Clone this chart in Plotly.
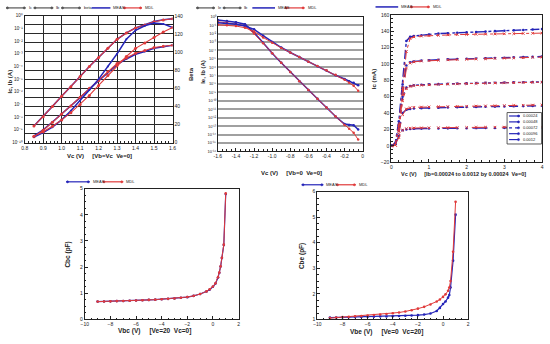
import plotly.graph_objects as go

# ---------------- data ----------------
# Plot 1: forward Gummel (Vb=Vc, Ve=0)
vc1 = [0.85, 0.9, 0.95, 1.0, 1.05, 1.1, 1.15, 1.2, 1.25, 1.3, 1.35, 1.4, 1.45, 1.5, 1.55, 1.6]
ic1_meas = [2.0e-9, 1.1e-8, 7.1e-8, 4.5e-7, 2.5e-6, 1.6e-5, 1.0e-4, 5.0e-4, 2.8e-3, 1.4e-2, 4.5e-2, 0.11, 0.20, 0.35, 0.48, 0.59]
ic1_mdl = [2.0e-9, 1.1e-8, 7.0e-8, 4.5e-7, 2.5e-6, 1.6e-5, 1.0e-4, 5.0e-4, 2.8e-3, 1.4e-2, 4.4e-2, 0.11, 0.19, 0.34, 0.46, 0.58]
ib1_meas = [3.3e-10, 1.0e-9, 4.2e-9, 1.8e-8, 7.2e-8, 3.5e-7, 1.7e-6, 7.1e-6, 3.4e-5, 1.4e-4, 3.9e-4, 9.1e-4, 1.5e-3, 2.7e-3, 3.6e-3, 4.7e-3]
ib1_mdl = [2.8e-10, 9.3e-10, 3.9e-9, 1.8e-8, 7.6e-8, 3.8e-7, 1.9e-6, 7.9e-6, 3.8e-5, 1.7e-4, 4.7e-4, 1.1e-3, 1.8e-3, 3.1e-3, 3.9e-3, 4.7e-3]
beta1_meas = [6, 11, 17, 25, 35, 46, 58, 70, 84, 98, 114, 124, 129, 132, 131, 127]
beta1_mdl = [7, 12, 18, 25, 33, 42, 52, 63, 74, 85, 95, 104, 110, 116, 122, 127]

# Plot 2: reverse Gummel (Vb=0, Ve=0)
vc2 = [-1.6, -1.5, -1.4, -1.3, -1.2, -1.1, -1.0, -0.9, -0.8, -0.7, -0.6, -0.5, -0.4, -0.3, -0.2, -0.15, -0.1, -0.05]
ie2_meas = [0.40, 0.32, 0.22, 0.13, 1.3e-2, 7.9e-4, 4.5e-5, 3.5e-6, 2.8e-7, 2.2e-8, 2.0e-9, 1.8e-10, 1.6e-11, 1.4e-12, 1.8e-13, 1.4e-13, 1.3e-13, 4.0e-14]
ie2_mdl = [0.25, 0.20, 0.14, 7.9e-2, 1.0e-2, 7.1e-4, 4.5e-5, 3.5e-6, 2.8e-7, 2.2e-8, 2.0e-9, 1.8e-10, 1.6e-11, 1.4e-12, 1.4e-13, 5.0e-14, 1.6e-14, 2.5e-15]
ib2_meas = [0.20, 0.16, 0.13, 7.9e-2, 3.2e-2, 5.6e-3, 1.0e-3, 2.2e-4, 5.6e-5, 1.6e-5, 4.5e-6, 1.3e-6, 4.0e-7, 1.1e-7, 4.0e-8, 2.2e-8, 1.4e-8, 7.1e-9]
ib2_mdl = [0.11, 0.10, 7.9e-2, 5.0e-2, 1.8e-2, 3.5e-3, 7.9e-4, 2.0e-4, 5.6e-5, 1.6e-5, 4.5e-6, 1.4e-6, 4.5e-7, 1.3e-7, 3.2e-8, 1.4e-8, 6.3e-9, 1.6e-9]

# Plot 3: output characteristics
vc3 = [0, 0.1, 0.2, 0.3, 0.4, 0.5, 0.6, 0.8, 1.0, 1.25, 1.5, 1.75, 2.0, 2.25, 2.5, 2.75, 3.0, 3.25, 3.5, 3.75, 4.0]
ib3_labels = ["0.00024", "0.00048", "0.00072", "0.00096", "0.0012"]
ic3_meas_1 = [0, 2, 12, 19, 20, 20.5, 20.8, 21, 21.1, 21.2, 21.3, 21.4, 21.5, 21.6, 21.7, 21.8, 21.9, 22, 22.1, 22.2, 22.3]
ic3_meas_2 = [0, 2, 18, 40, 44, 45, 45.5, 46, 46.3, 46.6, 46.9, 47.1, 47.3, 47.5, 47.7, 47.9, 48.1, 48.3, 48.5, 48.7, 48.9]
ic3_meas_3 = [0, 2, 22, 60, 71, 73, 74, 74.5, 75, 75.3, 75.6, 75.9, 76.2, 76.5, 76.8, 77, 77.2, 77.4, 77.6, 77.8, 78]
ic3_meas_4 = [0, 2, 25, 70, 98, 102, 103, 104, 104.5, 105, 105.5, 106, 106.3, 106.6, 107, 107.3, 107.6, 108, 108.3, 108.6, 109]
ic3_meas_5 = [0, 2, 30, 75, 128, 133, 134, 135, 136, 137, 137.5, 138, 138.5, 139, 139.5, 140, 140.5, 141, 141.5, 142, 142.5]
ic3_mdl_1 = [0, 1, 10, 19, 21, 21.5, 21.7, 21.9, 22, 22.1, 22.2, 22.3, 22.4, 22.5, 22.6, 22.7, 22.8, 22.9, 23, 23.1, 23.2]
ic3_mdl_2 = [0, 1, 15, 38, 45, 46.5, 47, 47.3, 47.5, 47.7, 47.9, 48.1, 48.3, 48.5, 48.7, 48.9, 49.1, 49.3, 49.5, 49.7, 49.9]
ic3_mdl_3 = [0, 1, 18, 55, 70, 72.5, 73.5, 74, 74.5, 75, 75.3, 75.6, 75.9, 76.2, 76.5, 76.7, 76.9, 77.1, 77.3, 77.5, 77.7]
ic3_mdl_4 = [0, 1, 22, 62, 95, 101, 102.5, 103.5, 104, 104.5, 105, 105.3, 105.6, 106, 106.3, 106.6, 107, 107.3, 107.6, 108, 108.3]
ic3_mdl_5 = [0, 1, 25, 70, 115, 131, 133, 134, 134.5, 135, 135.5, 135.8, 136, 136.2, 136.4, 136.6, 136.8, 137, 137.2, 137.4, 137.6]

# Plot 4: Cbc vs Vbc
vbc4 = [-9, -8.5, -8, -7.5, -7, -6.5, -6, -5.5, -5, -4.5, -4, -3.5, -3, -2.5, -2, -1.5, -1, -0.5, -0.25, 0, 0.2, 0.4, 0.5, 0.6, 0.7, 0.85, 1.0]
cbc4_meas = [0.68, 0.685, 0.69, 0.70, 0.705, 0.715, 0.72, 0.73, 0.745, 0.755, 0.77, 0.785, 0.80, 0.825, 0.85, 0.90, 0.97, 1.07, 1.14, 1.25, 1.37, 1.60, 1.78, 2.02, 2.35, 2.85, 4.80]
cbc4_mdl = [0.68, 0.685, 0.69, 0.70, 0.705, 0.715, 0.72, 0.73, 0.745, 0.755, 0.77, 0.785, 0.80, 0.825, 0.855, 0.90, 0.97, 1.07, 1.15, 1.26, 1.38, 1.61, 1.79, 2.03, 2.36, 2.86, 4.82]

# Plot 5: Cbe vs Vbe
vbe5 = [-9, -8.5, -8, -7.5, -7, -6.5, -6, -5.5, -5, -4.5, -4, -3.5, -3, -2.5, -2, -1.5, -1, -0.5, -0.25, 0, 0.2, 0.4, 0.5, 0.6, 0.8, 1.0]
cbe5_meas = [1.07, 1.075, 1.08, 1.085, 1.09, 1.095, 1.10, 1.105, 1.11, 1.115, 1.12, 1.13, 1.14, 1.15, 1.165, 1.19, 1.23, 1.33, 1.45, 1.60, 1.70, 1.85, 1.95, 2.25, 3.30, 5.10]
cbe5_mdl = [1.05, 1.07, 1.09, 1.10, 1.12, 1.13, 1.15, 1.17, 1.19, 1.21, 1.24, 1.27, 1.31, 1.36, 1.42, 1.49, 1.58, 1.70, 1.78, 1.88, 1.98, 2.12, 2.25, 2.50, 3.65, 5.60]

# ---------------- styling ----------------
BLUE = "#2424b8"
RED = "#e03a3a"
GRAY = "#555555"
FONT = "Liberation Sans"
W, H = 550, 344
SUP = str.maketrans("0123456789-", "⁰¹²³⁴⁵⁶⁷⁸⁹⁻")


def P(x):
    return x / W


def Q(y):
    return 1 - y / H


def pow10(e):
    return "10" + str(e).translate(SUP)


fig = go.Figure()


def line(x, y, xa, ya, color, width, dash="solid", msize=2.6, symbol="circle"):
    fig.add_trace(go.Scatter(
        x=x, y=y, xaxis=xa, yaxis=ya, mode="lines+markers",
        line=dict(color=color, width=width, dash=dash),
        marker=dict(color=color, size=msize, symbol=symbol),
        showlegend=False, hoverinfo="skip"))


# Plot 1
for meas, mdl, ya in [(ic1_meas, ic1_mdl, "y"), (ib1_meas, ib1_mdl, "y"), (beta1_meas, beta1_mdl, "y6")]:
    line(vc1, meas, "x", ya, BLUE, 1.5, msize=2)
    line(vc1, mdl, "x", ya, RED, 1.1, msize=3)

# Plot 2
for meas, mdl in [(ie2_meas, ie2_mdl), (ib2_meas, ib2_mdl)]:
    line(vc2, meas, "x2", "y2", BLUE, 1.5, msize=2.5)
    line(vc2, mdl, "x2", "y2", RED, 1.0, msize=2.5)

# Plot 3
dashes3 = ["longdash", "dash", "dot", "dash", "dashdot"]
meas3 = [ic3_meas_1, ic3_meas_2, ic3_meas_3, ic3_meas_4, ic3_meas_5]
mdl3 = [ic3_mdl_1, ic3_mdl_2, ic3_mdl_3, ic3_mdl_4, ic3_mdl_5]
for i in range(5):
    line(vc3, meas3[i], "x3", "y3", BLUE, 1.4, dash=dashes3[i], msize=2.6)
    line(vc3, mdl3[i], "x3", "y3", RED, 1.0, dash=dashes3[i], msize=2.6, symbol="x-thin-open")

# Plot 4
line(vbc4, cbc4_meas, "x4", "y4", BLUE, 1.2, msize=2.6)
line(vbc4, cbc4_mdl, "x4", "y4", RED, 1.0, msize=2.6)

# Plot 5
line(vbe5, cbe5_meas, "x5", "y5", BLUE, 1.2, msize=2.6)
line(vbe5, cbe5_mdl, "x5", "y5", RED, 1.0, msize=2.6)

tickfont = dict(family=FONT, size=5, color="#222")
smallfont = dict(family=FONT, size=4.5, color="#222")


def ax(domain, rng, dtick=None, anchor=None, **kw):
    d = dict(domain=domain, range=rng, anchor=anchor, showline=True, linecolor="#222",
             linewidth=1, mirror=True, ticks="inside", ticklen=3, tickwidth=0.8,
             tickcolor="#222", tickfont=tickfont, showgrid=False, zeroline=False)
    if dtick is not None:
        d["dtick"] = dtick
    d.update(kw)
    return d


dom_x1 = [P(21), P(171)]
dom_y1 = [Q(142), Q(13)]
dom_x2 = [P(217), P(364)]
dom_y2 = [Q(151), Q(14)]
dom_x3 = [P(393), P(546)]
dom_y3 = [Q(162), Q(12)]
dom_x4 = [P(82), P(238)]
dom_y4 = [Q(322), Q(189)]
dom_x5 = [P(318), P(471)]
dom_y5 = [Q(322), Q(192)]

exp1 = list(range(0, -11, -1))
exp2 = list(range(0, -17, -1))

fig.update_layout(
    width=W, height=H, margin=dict(l=0, r=0, t=0, b=0),
    paper_bgcolor="white", plot_bgcolor="white", showlegend=False,
    font=dict(family=FONT, color="#222"),
    xaxis=ax(dom_x1, [0.8, 1.6], 0.1, "y", tickformat=".1f", showgrid=True,
             gridcolor="#2a2a2a", gridwidth=1.1,
             minor=dict(dtick=0.02, ticks="inside", ticklen=1.5, tickcolor="#222")),
    yaxis=ax(dom_y1, [-10, 0], None, "x", type="log",
             tickvals=[10.0 ** e for e in exp1],
             ticktext=[pow10(e) for e in exp1], mirror=False, tickfont=smallfont, ticks=""),
    yaxis6=ax(dom_y1, [0, 140], 20, "x", overlaying="y", side="right", showgrid=True,
              gridcolor="#2a2a2a", gridwidth=1.1, mirror=False,
              minor=dict(dtick=10, showgrid=True, gridcolor="#2a2a2a", gridwidth=1.1,
                         ticks="inside", ticklen=2)),
    xaxis2=ax(dom_x2, [-1.6, 0], 0.2, "y2", tickvals=[-1.6, -1.4, -1.2, -1.0, -0.8, -0.6, -0.4, -0.2, 0],
              ticktext=["-1.6", "-1.4", "-1.2", "-1.0", "-0.8", "-0.6", "-0.4", "-0.2", "0"],
              minor=dict(dtick=0.05, ticks="inside", ticklen=2, tickcolor="#222")),
    yaxis2=ax(dom_y2, [-16, 0], None, "x2", type="log",
              tickvals=[10.0 ** e for e in exp2],
              ticktext=[pow10(e) for e in exp2], tickfont=dict(family=FONT, size=4, color="#222"),
              showgrid=True, gridcolor="#a0a0a0", gridwidth=1.8, ticks=""),
    xaxis3=ax(dom_x3, [0, 4], 1, "y3",
              minor=dict(dtick=0.2, ticks="inside", ticklen=2, tickcolor="#222")),
    yaxis3=ax(dom_y3, [-20, 160], 20, "x3",
              minor=dict(dtick=5, ticks="inside", ticklen=1.5, tickcolor="#222")),
    xaxis4=ax(dom_x4, [-10, 2], 2, "y4",
              minor=dict(dtick=0.5, ticks="inside", ticklen=1.5, tickcolor="#222")),
    yaxis4=ax(dom_y4, [0, 5], 1, "x4",
              minor=dict(dtick=0.25, ticks="inside", ticklen=1.5, tickcolor="#222")),
    xaxis5=ax(dom_x5, [-10, 2], 2, "y5",
              minor=dict(dtick=0.5, ticks="inside", ticklen=1.5, tickcolor="#222")),
    yaxis5=ax(dom_y5, [1, 6], 1, "x5",
              minor=dict(dtick=0.25, ticks="inside", ticklen=1.5, tickcolor="#222")),
)

shapes = []
annos = []


def text(x, y, s, size=6, bold=True, angle=0, anchor="center"):
    annos.append(dict(x=P(x), y=Q(y), xref="paper", yref="paper", text=("<b>%s</b>" % s) if bold else s,
                      showarrow=False, textangle=angle, xanchor=anchor, yanchor="middle",
                      font=dict(family=FONT, size=size, color="#222")))


def legend_item(x0, x1, y, color, label, dash="solid", marker=True, width=1.2):
    shapes.append(dict(type="line", xref="paper", yref="paper", x0=P(x0), x1=P(x1), y0=Q(y), y1=Q(y),
                       line=dict(color=color, width=width, dash=dash)))
    if marker:
        for xm in (x0 + 1.5, x1 - 1.5):
            shapes.append(dict(type="circle", xref="paper", yref="paper",
                               x0=P(xm - 1.1), x1=P(xm + 1.1), y0=Q(y + 1.1), y1=Q(y - 1.1),
                               fillcolor=color, line=dict(color=color, width=0.5)))
    text(x1 + 1, y, label, size=4, bold=False, anchor="left")


# legends
legend_item(2, 22, 5, GRAY, "Ic")
legend_item(30, 50, 5, GRAY, "Ib")
legend_item(58, 78, 5, GRAY, "beta")
legend_item(89, 108, 5, BLUE, "MEAS", marker=False, width=1.5)
legend_item(121, 140, 5, RED, "MDL")

legend_item(195, 214, 5, GRAY, "Ie")
legend_item(222, 241, 5, GRAY, "Ib")
legend_item(252, 275, 5, BLUE, "MEAS", marker=False, width=1.5)
legend_item(285, 305, 5, RED, "MDL")

legend_item(377, 400, 4, BLUE, "MEAS", marker=False, width=1.5)
legend_item(412, 432, 4, RED, "MDL")

legend_item(63, 87, 182, BLUE, "MEAS")
legend_item(100, 121, 182, RED, "MDL")

legend_item(302, 324, 185, BLUE, "MEAS")
legend_item(337, 357, 185, RED, "MDL")

# plot 3 inner legend box
shapes.append(dict(type="rect", xref="paper", yref="paper", x0=P(510.5), x1=P(545.5), y0=Q(143.5), y1=Q(111.5),
                   fillcolor="white", line=dict(color="#333", width=0.8), layer="above"))
for i, lab in enumerate(ib3_labels):
    yy = 115 + i * 6
    shapes.append(dict(type="line", xref="paper", yref="paper", x0=P(512.5), x1=P(523.5), y0=Q(yy), y1=Q(yy),
                       line=dict(color=BLUE, width=1.2, dash=dashes3[i]), layer="above"))
    shapes.append(dict(type="circle", xref="paper", yref="paper", x0=P(521), x1=P(523.2), y0=Q(yy + 1.1), y1=Q(yy - 1.1),
                       fillcolor=BLUE, line=dict(color=BLUE, width=0.5), layer="above"))
    text(524.5, yy, lab, size=4, bold=False, anchor="left")

# axis titles
text(97, 156, "Vc (V)&nbsp;&nbsp;&nbsp;&nbsp;&nbsp;[Vb=Vc&nbsp;&nbsp;Ve=0]", size=6)
text(6, 80, "Ic, Ib (A)", size=6, angle=-90)
text(190, 72, "Beta", size=6, angle=-90)

text(292, 173, "Vc (V)&nbsp;&nbsp;&nbsp;&nbsp;&nbsp;[Vb=0&nbsp;&nbsp;Ve=0]", size=6)
text(202, 70, "Ie, Ib (A)", size=6, angle=-90)

text(466, 174, "Vc (V)&nbsp;&nbsp;&nbsp;&nbsp;&nbsp;[Ib=0.00024 to 0.0012 by 0.00024&nbsp;&nbsp;Ve=0]", size=5.5)
text(375, 78, "Ic (mA)", size=6, angle=-90)

text(153, 334, "Vbc (V)&nbsp;&nbsp;&nbsp;&nbsp;&nbsp;[Ve=20&nbsp;&nbsp;Vc=0]", size=6.5)
text(64, 256, "Cbc (pF)", size=6.5, angle=-90)

text(388, 335, "Vbe (V)&nbsp;&nbsp;&nbsp;&nbsp;&nbsp;[Ve=0&nbsp;&nbsp;Vc=20]", size=6.5)
text(302, 258, "Cbe (pF)", size=6.5, angle=-90)

fig.update_layout(shapes=shapes, annotations=annos)

fig.write_html("out.html")
